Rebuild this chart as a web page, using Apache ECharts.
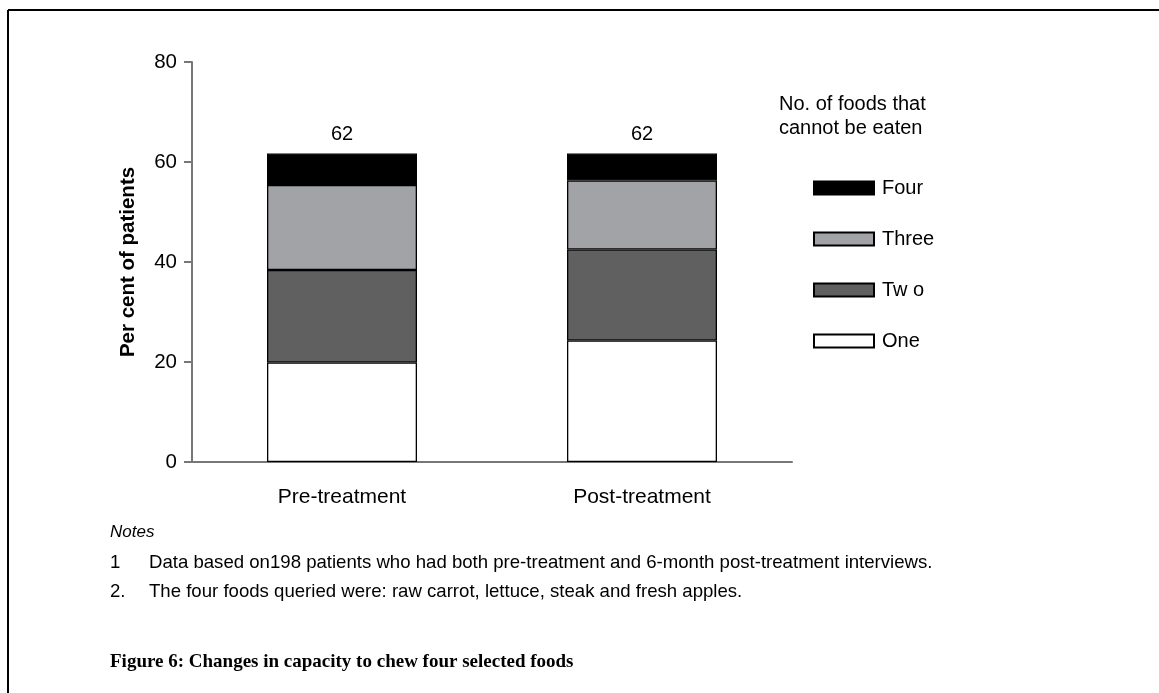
<!DOCTYPE html>
<html>
<head>
<meta charset="utf-8">
<script src="https://cdn.jsdelivr.net/npm/echarts@6/dist/echarts.min.js"></script>
<style>
html,body{margin:0;padding:0;background:#fff;}
#chart{width:1159px;height:693px;}
</style>
</head>
<body>
<div id="chart"></div>
<script>
// ---- data ----
const categories = ['Pre-treatment', 'Post-treatment'];
const seriesNames = ['One', 'Two', 'Three', 'Four'];
const oneValues = [19.9, 24.3];
const twoValues = [18.5, 18.2];
const threeValues = [17.0, 13.8];
const fourValues = [6.3, 5.4];
const totalLabels = ['62', '62'];
const yTicks = [0, 20, 40, 60, 80];
const legendOrder = ['Four', 'Three', 'Two', 'One'];
const legendLabels = {Four: 'Four', Three: 'Three', Two: 'Tw o', One: 'One'};
const legendTitle = ['No. of foods that', 'cannot be eaten'];
const notesHeading = 'Notes';
const notes = [
  ['1', 'Data based on198 patients who had both pre-treatment and 6-month post-treatment interviews.'],
  ['2.', 'The four foods queried were: raw carrot, lettuce, steak and fresh apples.']
];
const figureTitle = 'Figure 6: Changes in capacity to chew four selected foods';

const colors = {One: '#ffffff', Two: '#606060', Three: '#a2a3a7', Four: '#000000'};
const valuesByName = {One: oneValues, Two: twoValues, Three: threeValues, Four: fourValues};
const FONT = 'Liberation Sans, Arial, sans-serif';

const chart = echarts.init(document.getElementById('chart'), null, {renderer: 'canvas'});

const series = seriesNames.map(name => ({
  name: name,
  type: 'bar',
  stack: 'total',
  barWidth: 150,
  data: valuesByName[name],
  itemStyle: {color: colors[name], borderColor: '#000', borderWidth: 1.3},
  emphasis: {disabled: true},
  label: name === 'Four' ? {
    show: true, position: 'top', distance: 9,
    fontFamily: FONT, fontSize: 20, color: '#000',
    formatter: p => totalLabels[p.dataIndex]
  } : {show: false},
  animation: false
}));

const graphics = [
  {type: 'line', shape: {x1: 8, y1: 10, x2: 1159, y2: 10}, style: {stroke: '#000', lineWidth: 2}},
  {type: 'line', shape: {x1: 8, y1: 10, x2: 8, y2: 693}, style: {stroke: '#000', lineWidth: 2}},
  {type: 'text', left: 779, top: 92, style: {text: legendTitle.join('\n'), font: '20px ' + FONT, fill: '#000', lineHeight: 24}},
  {type: 'text', left: 110, top: 524, style: {text: notesHeading, font: 'italic 17px ' + FONT, fill: '#000'}}
];
notes.forEach((n, i) => {
  graphics.push({type: 'text', left: 110, top: 553 + i * 29, style: {text: n[0], font: '18.6px ' + FONT, fill: '#000'}});
  graphics.push({type: 'text', left: 149, top: 553 + i * 29, style: {text: n[1], font: '18.6px ' + FONT, fill: '#000'}});
});
graphics.push({type: 'text', left: 110, top: 653, style: {text: figureTitle, font: 'bold 19px "Liberation Serif", serif', fill: '#000'}});

chart.setOption({
  animation: false,
  backgroundColor: '#fff',
  grid: {left: 192, right: 367, top: 62, bottom: 231, containLabel: false},
  legend: {
    data: legendOrder,
    orient: 'vertical',
    left: 813, top: 178,
    itemWidth: 60, itemHeight: 13, itemGap: 31,
    icon: 'rect',
    padding: 0,
    selectedMode: false,
    formatter: name => legendLabels[name],
    itemStyle: {borderColor: '#000', borderWidth: 2},
    textStyle: {fontFamily: FONT, fontSize: 20, color: '#000', padding: [0, 0, 0, 3]}
  },
  xAxis: {
    type: 'category',
    data: categories,
    axisLine: {show: true, lineStyle: {color: '#777', width: 2}},
    axisTick: {show: false},
    axisLabel: {fontFamily: FONT, fontSize: 21, color: '#000', margin: 25},
    splitLine: {show: false}
  },
  yAxis: {
    type: 'value',
    min: yTicks[0], max: yTicks[yTicks.length - 1], interval: yTicks[1] - yTicks[0],
    name: 'Per cent of patients',
    nameLocation: 'middle',
    nameRotate: 90,
    nameGap: 53,
    nameTextStyle: {fontFamily: FONT, fontSize: 20.5, fontWeight: 'bold', color: '#000'},
    axisLine: {show: true, lineStyle: {color: '#777', width: 2}},
    axisTick: {show: true, inside: false, length: 8, lineStyle: {color: '#777', width: 2}},
    axisLabel: {fontFamily: FONT, fontSize: 20.5, color: '#000', margin: 15},
    splitLine: {show: false}
  },
  series: series,
  graphic: graphics
});
</script>
</body>
</html>
